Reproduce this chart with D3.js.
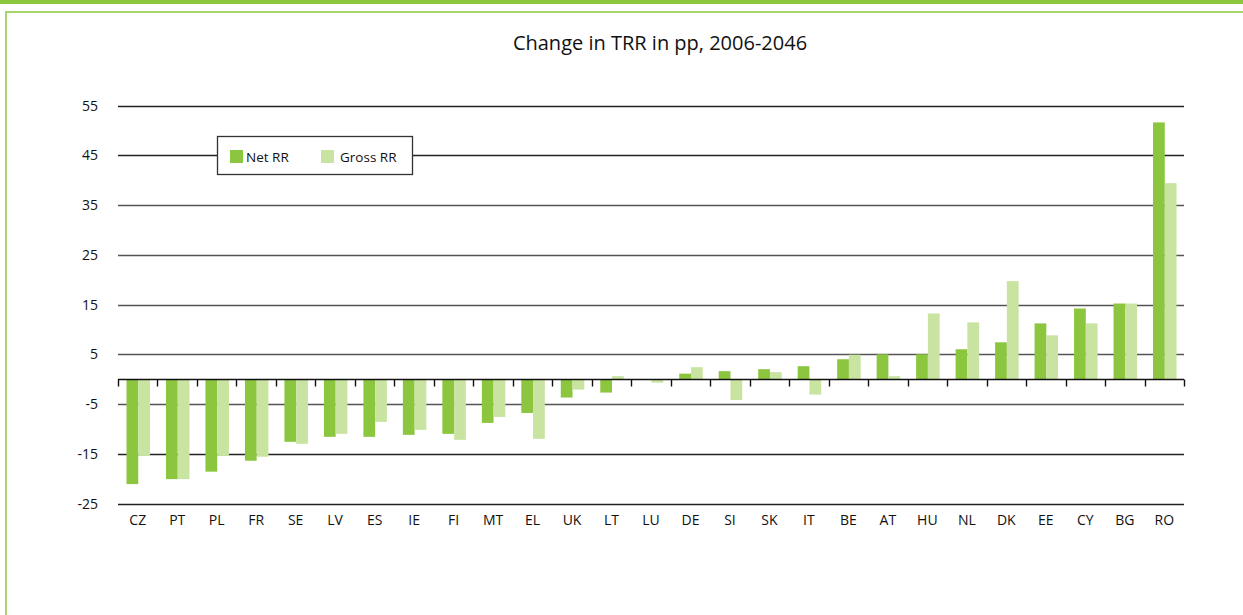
<!DOCTYPE html>
<html><head><meta charset="utf-8">
<script src="https://cdn.jsdelivr.net/npm/d3@7"></script>
<style>body{margin:0;background:#fff;}svg{display:block;font-family:"Open Sans","Noto Sans",sans-serif;}</style>
</head><body><svg id="c" width="1243" height="615"></svg>
<script>
const categories = ["CZ","PT","PL","FR","SE","LV","ES","IE","FI","MT","EL","UK","LT","LU","DE","SI","SK","IT","BE","AT","HU","NL","DK","EE","CY","BG","RO"];
const netRR   = [-21.1,-20.1,-18.6,-16.4,-12.6,-11.6,-11.6,-11.2,-11.0,-8.8,-6.8,-3.7,-2.7,0,1.1,1.6,2.0,2.6,4.0,5.0,5.0,6.0,7.4,11.2,14.2,15.2,51.6];
const grossRR = [-15.4,-20.1,-15.4,-15.6,-13.0,-11.0,-8.6,-10.2,-12.2,-7.6,-12.0,-2.1,0.6,-0.7,2.4,-4.2,1.4,-3.1,4.9,0.6,13.2,11.4,19.7,8.8,11.2,15.2,39.4];
const yTicks = [55,45,35,25,15,5,-5,-15,-25];
const seriesNames = ["Net RR","Gross RR"];
const colors = ["#8cc63f","#c8e4a0"];

const svg = d3.select("#c");
svg.append("rect").attr("x",0).attr("y",0).attr("width",1243).attr("height",4).attr("fill","#8cc63f");
svg.append("path").attr("d","M6,615V12H1243").attr("fill","none").attr("stroke","#a8d470").attr("stroke-width",2);

svg.append("text").attr("x",660).attr("y",50).attr("text-anchor","middle")
  .attr("font-size",20).attr("fill","#111").text("Change in TRR in pp, 2006-2046");

const x = d3.scaleBand().domain(categories).range([118,1184]).paddingInner(0).paddingOuter(0);
const y = d3.scaleLinear().domain([-25,55]).range([503.5,105.5]);
const x1 = d3.scaleBand().domain([0,1]).range([8.5,32]);

svg.append("g").selectAll("line").data(yTicks).join("line")
  .attr("x1",118).attr("x2",1184).attr("y1",d=>Math.round(y(d))+0.5).attr("y2",d=>Math.round(y(d))+0.5)
  .attr("stroke",d=> (d===55||d===45||d===-15||d===-25)?"#222":"#555").attr("stroke-width",1.6);

svg.append("g").selectAll("text").data(yTicks).join("text")
  .attr("x",98).attr("y",d=>y(d)+5).attr("text-anchor","end").attr("font-size",14).attr("fill","#111").text(d=>d);

const groups = svg.append("g").selectAll("g").data(categories).join("g")
  .attr("transform",d=>`translate(${x(d)},0)`);
groups.selectAll("rect").data((d,i)=>[netRR[i],grossRR[i]]).join("rect")
  .attr("x",(d,j)=>x1(j)).attr("width",x1.bandwidth())
  .attr("y",d=>y(Math.max(0,d))).attr("height",d=>Math.abs(y(d)-y(0)))
  .attr("fill",(d,j)=>colors[j]);

const ag = svg.append("g").attr("transform",`translate(0,${Math.round(y(0))+0.5})`);
ag.append("line").attr("x1",118).attr("x2",1184).attr("stroke","#111").attr("stroke-width",1.6);
const bounds = categories.map(c=>x(c)).concat([x.range()[1]]);
ag.selectAll("line.t").data(bounds).join("line").attr("class","t")
  .attr("x1",d=>Math.round(d)+0.5).attr("x2",d=>Math.round(d)+0.5).attr("y1",0).attr("y2",7)
  .attr("stroke","#111").attr("stroke-width",1.4);

svg.append("g").selectAll("text").data(categories).join("text")
  .attr("x",d=>x(d)+x.bandwidth()/2).attr("y",525).attr("text-anchor","middle")
  .attr("font-size",14).attr("fill","#111").text(d=>d);

const lg = svg.append("g");
lg.append("rect").attr("x",217.5).attr("y",136.5).attr("width",195).attr("height",38)
  .attr("fill","#fff").attr("stroke","#333").attr("stroke-width",1.3);
const lx = [230,321], tx=[246,340];
seriesNames.forEach((n,i)=>{
  lg.append("rect").attr("x",lx[i]).attr("y",150).attr("width",13).attr("height",13).attr("fill",colors[i]);
  lg.append("text").attr("x",tx[i]).attr("y",161.5).attr("font-size",13.5).attr("fill","#111").text(n);
});
</script></body></html>
